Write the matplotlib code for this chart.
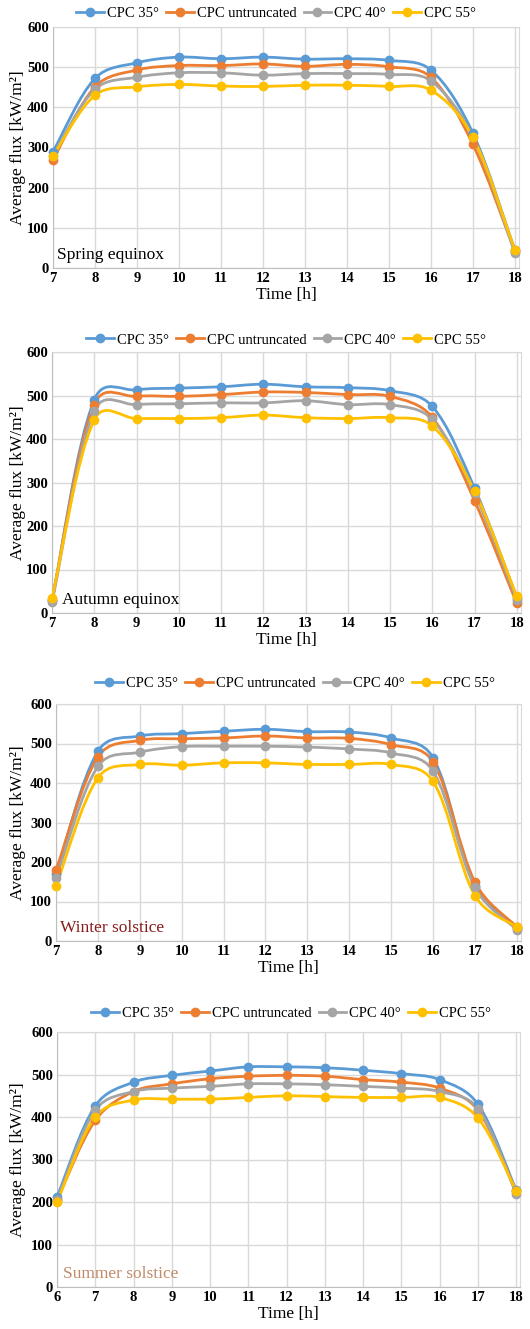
import numpy as np
import matplotlib
matplotlib.use("Agg")
import matplotlib.pyplot as plt
from matplotlib.path import Path
from matplotlib.patches import PathPatch
from matplotlib.lines import Line2D

plt.rcParams['font.family'] = ['Liberation Serif', 'DejaVu Serif']

series_names = ["CPC 35°", "CPC untruncated", "CPC 40°", "CPC 55°"]
colors = ["#5B9BD5", "#ED7D31", "#A5A5A5", "#FFC000"]

# Spring equinox
spring_hours = [7, 8, 9, 10, 11, 12, 13, 14, 15, 16, 17, 18]
spring_35 = [290, 472, 511, 525, 521, 525, 520, 521, 517, 493, 336, 45]
spring_unt = [270, 451, 493, 504, 504, 508, 502, 507, 501, 475, 308, 42]
spring_40 = [280, 445, 475, 486, 486, 480, 484, 484, 482, 466, 326, 38]
spring_55 = [280, 430, 451, 457, 453, 452, 455, 455, 452, 443, 326, 45]

# Autumn equinox
autumn_hours = [7, 8, 9, 10, 11, 12, 13, 14, 15, 16, 17, 18]
autumn_35 = [30, 490, 513, 517, 520, 526, 520, 518, 511, 475, 287, 35]
autumn_unt = [30, 479, 498, 498, 502, 508, 507, 502, 498, 450, 258, 22]
autumn_40 = [25, 464, 479, 481, 483, 483, 488, 479, 479, 445, 275, 30]
autumn_55 = [35, 444, 447, 447, 449, 455, 449, 447, 449, 430, 280, 38]

# Winter solstice
winter_hours = [7, 8, 9, 10, 11, 12, 13, 14, 15, 16, 17, 18]
winter_35 = [170, 480, 519, 525, 531, 536, 530, 529, 514, 464, 140, 33]
winter_unt = [180, 466, 508, 512, 514, 519, 514, 513, 497, 453, 149, 35]
winter_40 = [160, 442, 478, 492, 493, 493, 491, 486, 476, 430, 136, 28]
winter_55 = [140, 413, 447, 445, 451, 451, 447, 447, 447, 404, 115, 35]

# Summer solstice
summer_hours = [6, 7, 8, 9, 10, 11, 12, 13, 14, 15, 16, 17, 18]
summer_35 = [212, 426, 482, 498, 508, 518, 518, 516, 510, 502, 488, 430, 228]
summer_unt = [205, 392, 460, 478, 490, 496, 498, 496, 488, 482, 468, 416, 225]
summer_40 = [205, 416, 460, 468, 472, 478, 478, 476, 472, 468, 460, 420, 220]
summer_55 = [200, 400, 440, 442, 442, 446, 450, 448, 446, 446, 446, 398, 226]

panels = [
    (spring_hours, [spring_35, spring_unt, spring_40, spring_55], "Spring equinox", "black"),
    (autumn_hours, [autumn_35, autumn_unt, autumn_40, autumn_55], "Autumn equinox", "black"),
    (winter_hours, [winter_35, winter_unt, winter_40, winter_55], "Winter solstice", "#8B1A1A"),
    (summer_hours, [summer_35, summer_unt, summer_40, summer_55], "Summer solstice", "#C08A6A"),
]

# axes boxes in pixels: left, right, top, bottom
W, H = 530, 1329
boxes = [(53, 519, 27, 268), (52, 521, 352, 613), (56, 521, 704, 941), (57, 520, 1032, 1287)]
legend_y = [13, 340, 683, 1013]
legend_x = [276, 286, 295, 291]
label_x = [4, 10, 4, 6]   # px offset of season text from left edge


def smooth_path(x, y, sx, sy):
    # Excel-like smoothed line: cubic bezier, tangents partly weighted by segment length
    x = np.asarray(x, float)
    y = np.asarray(y, float)
    P = np.column_stack([x * sx, y * sy])
    n = len(P)
    verts = [(x[0], y[0])]
    codes = [Path.MOVETO]
    for i in range(n - 1):
        p0 = P[max(i - 1, 0)]
        p1 = P[i]
        p2 = P[i + 1]
        p3 = P[min(i + 2, n - 1)]
        d01 = np.hypot(*(p1 - p0))
        d12 = np.hypot(*(p2 - p1))
        d23 = np.hypot(*(p3 - p2))
        f1 = d12 / (d01 + d12) if d01 + d12 > 0 else 0.5
        f2 = d12 / (d12 + d23) if d12 + d23 > 0 else 0.5
        f1 = 0.5 * (f1 + 0.5)
        f2 = 0.5 * (f2 + 0.5)
        c1 = p1 + (p2 - p0) * f1 / 3.0
        c2 = p2 - (p3 - p1) * f2 / 3.0
        for c in (c1, c2, p2):
            verts.append((c[0] / sx, c[1] / sy))
        codes += [Path.CURVE4] * 3
    return Path(verts, codes)


fig = plt.figure(figsize=(W / 100, H / 100), dpi=100)

for k, (hours, vals, label, lcolor) in enumerate(panels):
    l, r, t, b = boxes[k]
    ax = fig.add_axes([l / W, 1 - b / H, (r - l) / W, (b - t) / H])
    xlo, xhi = hours[0], 18.1
    sx = (r - l) / (xhi - xlo)
    sy = (b - t) / 600.0
    for v, c in zip(vals, colors):
        ax.add_patch(PathPatch(smooth_path(hours, v, sx, sy), fill=False, edgecolor=c, lw=2.0, zorder=3))
        ax.plot(hours, v, linestyle='none', marker='o', ms=6, color=c, zorder=4, clip_on=False)
    ax.set_xlim(xlo, xhi)
    ax.set_ylim(0, 600)
    ax.set_xticks(hours)
    ax.set_yticks(range(0, 601, 100))
    ax.grid(True, color="#D9D9D9", lw=1.0)
    ax.set_axisbelow(True)
    for s in ax.spines.values():
        s.set_color("#D9D9D9")
    ax.spines['bottom'].set_color("#BFBFBF")
    ax.spines['left'].set_color("#BFBFBF")
    ax.tick_params(length=0, pad=3, labelsize=10.5)
    for tl in ax.get_xticklabels() + ax.get_yticklabels():
        tl.set_fontweight('bold')
    ax.set_xlabel("Time [h]", fontsize=12.5, labelpad=1)
    ax.set_ylabel("Average flux [kW/m²]", fontsize=12.5)
    ax.yaxis.set_label_coords((26 - l) / (r - l), 0.5)
    ax.text(label_x[k] / (r - l), 0.02, label, transform=ax.transAxes, fontsize=12.5,
            color=lcolor, va='bottom', ha='left')

    handles = [Line2D([], [], color=c, lw=2.0, marker='o', ms=6) for c in colors]
    fig.legend(handles, series_names, loc='center', ncol=4, frameon=False,
               bbox_to_anchor=(legend_x[k] / W, 1 - legend_y[k] / H),
               fontsize=10.5, handlelength=1.9, handletextpad=0.2, columnspacing=0.5)

fig.savefig("out.png", dpi=100)
